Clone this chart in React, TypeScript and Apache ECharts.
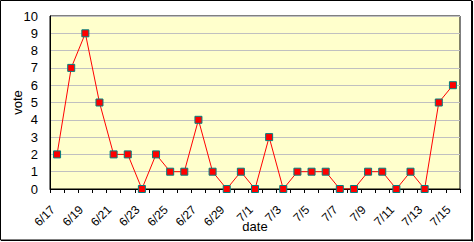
import React, { useEffect, useRef } from "react";
import * as echarts from "echarts";

const dates = [
  "6/17", "6/18", "6/19", "6/20", "6/21", "6/22", "6/23", "6/24", "6/25", "6/26",
  "6/27", "6/28", "6/29", "6/30", "7/1", "7/2", "7/3", "7/4", "7/5", "7/6",
  "7/7", "7/8", "7/9", "7/10", "7/11", "7/12", "7/13", "7/14", "7/15",
];
const votes = [2, 7, 9, 5, 2, 2, 0, 2, 1, 1, 4, 1, 0, 1, 0, 3, 0, 1, 1, 1, 0, 0, 1, 1, 0, 1, 0, 5, 6];

const FONT = "'Liberation Sans', Arial, sans-serif";

export default function App() {
  const ref = useRef<HTMLDivElement>(null);
  useEffect(() => {
    if (!ref.current) return;
    const chart = echarts.init(ref.current, undefined, { renderer: "svg" });
    chart.setOption({
      animation: false,
      backgroundColor: "#ffffff",
      textStyle: { fontFamily: FONT },
      graphic: [
        {
          type: "rect",
          z: -1,
          shape: { x: 0.5, y: 0.5, width: 471, height: 239.5 },
          style: { fill: "none", stroke: "#000", lineWidth: 1 },
        },
        {
          type: "line",
          shape: { x1: 472.5, y1: 1, x2: 472.5, y2: 241.5 },
          style: { stroke: "#000", lineWidth: 1 },
        },
        {
          type: "line",
          shape: { x1: 1, y1: 240.5, x2: 473, y2: 240.5 },
          style: { stroke: "#000", lineWidth: 1 },
        },
      ],
      grid: {
        left: 50,
        top: 16,
        right: 14,
        bottom: 53,
        show: true,
        backgroundColor: "#ffffcc",
        borderColor: "#000",
        borderWidth: 1,
        containLabel: false,
        outerBoundsMode: "none",
      },
      xAxis: {
        type: "category",
        data: dates,
        boundaryGap: true,
        name: "date",
        nameLocation: "middle",
        nameGap: 31,
        nameMoveOverlap: false,
        nameTextStyle: { fontSize: 13, color: "#000", fontFamily: FONT },
        axisLine: { lineStyle: { color: "#000", width: 1 } },
        axisTick: { show: true, length: 4, interval: 0, lineStyle: { color: "#000" } },
        axisLabel: {
          interval: 1,
          rotate: 45,
          fontSize: 12,
          color: "#000",
          margin: 23,
          verticalAlign: "bottom",
          fontFamily: FONT,
        },
        splitLine: { show: false },
      },
      yAxis: {
        type: "value",
        min: 0,
        max: 10,
        interval: 1,
        name: "vote",
        nameLocation: "middle",
        nameGap: 26,
        nameMoveOverlap: false,
        nameTextStyle: { fontSize: 13, color: "#000", fontFamily: FONT },
        axisLine: { show: true, lineStyle: { color: "#000" } },
        axisTick: { show: false },
        axisLabel: { fontSize: 13, color: "#000", margin: 12, fontFamily: FONT },
        splitLine: { show: true, lineStyle: { color: "#c0c0c0", width: 1 } },
      },
      series: [
        {
          type: "line",
          data: votes,
          symbol: "rect",
          symbolSize: 7,
          itemStyle: { color: "#ff0000", borderColor: "#008080", borderWidth: 1 },
          lineStyle: { color: "#ff0000", width: 1 },
        },
      ],
    });
    return () => chart.dispose();
  }, []);
  return (
    <div
      ref={ref}
      style={{ position: "fixed", left: 0, top: 0, width: 474, height: 242 }}
    />
  );
}
